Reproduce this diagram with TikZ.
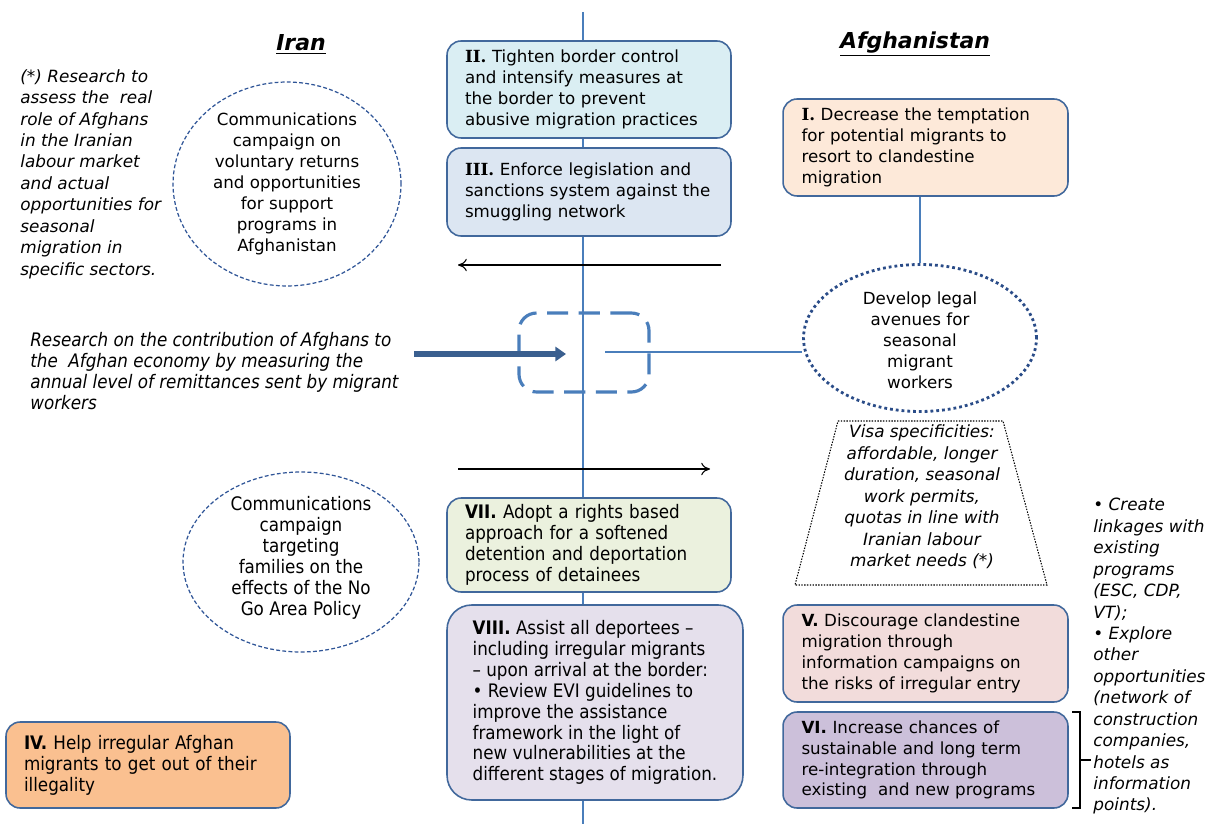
\documentclass[tikz,border=0pt]{standalone}
\usepackage{fontspec}
\setmainfont{DejaVu Sans}
\newfontfamily\cond{DejaVu Sans Condensed}
\newfontfamily\serifb{DejaVu Serif}
\usetikzlibrary{arrows.meta,shapes.geometric}
\definecolor{axisblue}{HTML}{4A7EBB}
\definecolor{boxborder}{HTML}{41689C}
\definecolor{ellblue}{HTML}{2F5597}
\definecolor{fillII}{HTML}{DAEEF3}
\definecolor{fillIII}{HTML}{DCE6F2}
\definecolor{fillI}{HTML}{FDE9D9}
\definecolor{fillVII}{HTML}{EBF1DE}
\definecolor{fillVIII}{HTML}{E5E0EC}
\definecolor{fillIV}{HTML}{FAC090}
\definecolor{fillV}{HTML}{F2DCDB}
\definecolor{fillVI}{HTML}{CCC0DA}
\definecolor{thickarrow}{HTML}{3A5F8F}
\newcommand{\bodyfont}{\fontsize{9.5}{11.9}\selectfont}
\newcommand{\condfont}{\cond\fontsize{10.6}{11.9}\selectfont}
\newcommand{\itfont}{\fontsize{9.6}{12.2}\selectfont\itshape}
\newcommand{\romanb}[1]{{\serifb\bfseries #1}}
\begin{document}
\begin{tikzpicture}[x=0.02cm,y=-0.02cm,
  actbox/.style={draw=boxborder,line width=0.9pt,rounded corners=8pt,
    inner xsep=0pt,align=left,font=\bodyfont},
  dellipse/.style={ellipse,draw=ellblue,line width=0.7pt,dash pattern=on 2.2pt off 1.3pt,
    align=center,font=\bodyfont,inner sep=0pt},
  ittext/.style={font=\itfont,align=left,inner sep=0pt},
  header/.style={font=\fontsize{12.5}{15}\selectfont\bfseries\itshape,inner sep=0pt},
  thinarrow/.style={line width=0.6pt,-{To[length=5pt,width=7pt]}}
]
\useasboundingbox (0,0) rectangle (1206,824);
% border axis
\coordinate (axtop) at (583,12);
\coordinate (axbot) at (583,824);
\draw[axisblue,line width=0.8pt] (axtop) -- (axbot);

% headers
\node[header] (iran) at (301,44) {\underline{Iran}};
\node[header] (afg) at (915,44) {\underline{Afghanistan}};

% left research text
\node[ittext,anchor=north west] (res1) at (20,69) {(*) Research to\\assess the~~real\\role of Afghans\\in the Iranian\\labour market\\and actual\\opportunities for\\seasonal\\migration in\\specific sectors.};

% ellipse 1
\node[dellipse,minimum width=4.56cm,minimum height=4.08cm] (e1) at (287,184) {};
\node[font=\bodyfont,align=center,inner sep=0pt] (e1t) at (287,184) {Communications\\campaign on\\voluntary returns\\and opportunities\\for support\\programs in\\Afghanistan};

% boxes
\node[actbox,fill=fillII,minimum width=5.68cm,minimum height=1.94cm,text width=4.96cm] (b2) at (589,89.5)
 {\romanb{II.} Tighten border control\\and intensify measures at\\the border to prevent\\abusive migration practices};
\node[actbox,fill=fillIII,minimum width=5.68cm,minimum height=1.76cm,text width=4.96cm] (b3) at (589,192)
 {\romanb{III.} Enforce legislation and\\sanctions system against the\\smuggling network};
\node[actbox,fill=fillI,minimum width=5.70cm,minimum height=1.94cm,text width=4.96cm] (b1) at (925.5,147.5)
 {\romanb{I.} Decrease the temptation\\for potential migrants to\\resort to clandestine\\migration};

% ellipse 2 (dotted)
\node[ellipse,draw=ellblue!90!black,line width=1.6pt,dash pattern=on 1.6pt off 1.7pt,
  minimum width=4.66cm,minimum height=2.94cm,inner sep=0pt] (e2) at (920,338) {};
\node[font=\bodyfont,align=center,inner sep=0pt] (e2t) at (920,340) {Develop legal\\avenues for\\seasonal\\migrant\\workers};
\draw[axisblue,line width=0.8pt] (b1.south -| e2.north) -- (e2.north);

% arrow left
\coordinate (alS) at (721,265);
\coordinate (alE) at (458,265);
\draw[thinarrow] (alS) -- (alE);

% dashed rounded rectangle
\node[draw=axisblue,line width=1.8pt,dash pattern=on 12pt off 6pt,rounded corners=10pt,
  minimum width=2.6cm,minimum height=1.58cm,inner sep=0pt] (dr) at (584,352.5) {};

% thick arrow
\coordinate (taS) at (414,354);
\coordinate (taE) at (566,354);
\draw[thickarrow,line width=3pt,-{Triangle[length=6pt,width=8pt]}] (taS) -- (taE);
\coordinate (lnS) at (605,352);
\draw[axisblue,line width=0.8pt] (lnS) -- (e2.west |- lnS);

% remittances text
\node[ittext,font=\condfont\itshape,anchor=north west] (res2) at (30,332) {Research on the contribution of Afghans to\\the~~Afghan economy by measuring the\\annual level of remittances sent by migrant\\workers};

% arrow right
\coordinate (arS) at (458,469);
\coordinate (arE) at (710,469);
\draw[thinarrow] (arS) -- (arE);

% trapezoid
\coordinate (tz1) at (838,421);
\coordinate (tz2) at (1003,421);
\coordinate (tz3) at (1047,585);
\coordinate (tz4) at (795,585);
\draw[line width=0.6pt,dash pattern=on 0.8pt off 0.8pt] (tz1) -- (tz2) -- (tz3) -- (tz4) -- cycle;
\node[ittext,align=center] (tzt) at (922,497) {Visa specificities:\\affordable, longer\\duration, seasonal\\work permits,\\quotas in line with\\Iranian labour\\market needs (*)};

% ellipse 3
\node[dellipse,minimum width=4.72cm,minimum height=3.6cm] (e3) at (301,562) {};
\node[font=\condfont,align=center,inner sep=0pt] (e3t) at (301,558) {Communications\\campaign\\targeting\\families on the\\effects of the No\\Go Area Policy};

% boxes bottom
\node[actbox,font=\condfont,fill=fillVII,minimum width=5.68cm,minimum height=1.88cm,text width=4.96cm] (b7) at (589,545)
 {\textbf{VII.} Adopt a rights based\\approach for a softened\\detention and deportation\\process of detainees};
\node[actbox,font=\condfont,fill=fillVIII,rounded corners=14pt,minimum width=5.92cm,minimum height=3.9cm] (b8) at (595,702.5)
 {\textbf{VIII.} Assist all deportees –\\including irregular migrants\\– upon arrival at the border:\\• Review EVI guidelines to\\improve the assistance\\framework in the light of\\new vulnerabilities at the\\different stages of migration.};
\node[actbox,font=\condfont,fill=fillIV,minimum width=5.68cm,minimum height=1.72cm,text width=4.96cm] (b4) at (148,765)
 {\textbf{IV.} Help irregular Afghan\\migrants to get out of their\\illegality};
\node[actbox,fill=fillV,minimum width=5.70cm,minimum height=1.94cm,text width=4.96cm] (b5) at (925.5,653.5)
 {\textbf{V.} Discourage clandestine\\migration through\\information campaigns on\\the risks of irregular entry};
\node[actbox,fill=fillVI,minimum width=5.70cm,minimum height=1.92cm,text width=4.96cm] (b6) at (925.5,760)
 {\textbf{VI.} Increase chances of\\sustainable and long term\\re-integration through\\existing~~and new programs};

% bracket
\coordinate (brT) at (1072,712);
\coordinate (brB) at (1072,808);
\coordinate (brM) at (1091,760);
\draw[line width=1.6pt] (brT) -- ++(8,0) |- (brB);
\draw[line width=1.6pt] (1080,760) -- (brM);

% right text
\node[ittext,anchor=north west] (rt) at (1093,498) {• Create\\linkages with\\existing\\programs\\(ESC, CDP,\\VT);\\• Explore\\other\\opportunities\\(network of\\construction\\companies,\\hotels as\\information\\points).};
\end{tikzpicture}
\end{document}
